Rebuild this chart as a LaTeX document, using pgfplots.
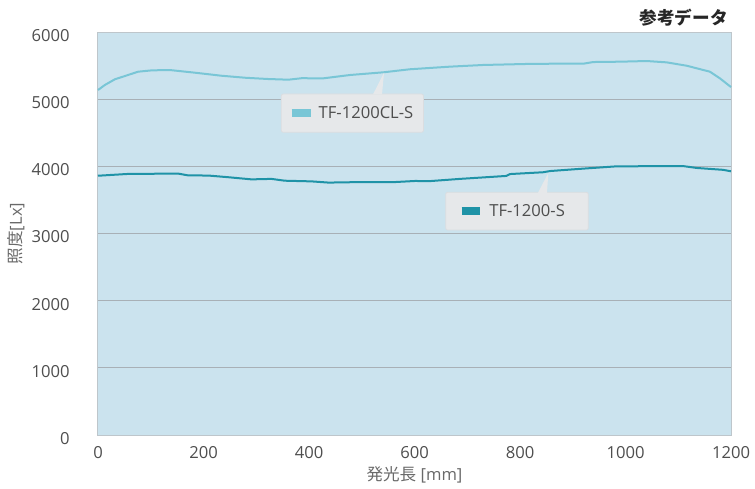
\documentclass[border=0pt]{standalone}
\usepackage{pgfplots}
\pgfplotsset{compat=1.18}
\usepackage{fontspec}
\setmainfont{Open Sans}
\newfontfamily\cjk{Noto Sans CJK JP}

\definecolor{plotbg}{RGB}{203,227,238}
\definecolor{gridc}{RGB}{168,176,182}
\definecolor{framec}{RGB}{190,198,203}
\definecolor{clcolor}{RGB}{121,198,214}
\definecolor{scolor}{RGB}{31,147,167}
\definecolor{calloutc}{RGB}{230,232,234}
\definecolor{calloutb}{RGB}{218,221,224}
\definecolor{txt}{RGB}{78,78,78}

% TF-1200CL-S
\pgfplotstableread{
x y
0 5136
13 5211
32 5296
57 5360
76 5409
102 5429
136 5434
184 5394
234 5349
279 5319
323 5300
361 5290
386 5312
427 5310
478 5360
541 5400
591 5445
667 5484
730 5509
812 5524
863 5528
920 5528
939 5553
990 5558
1040 5568
1078 5548
1116 5498
1160 5409
1179 5310
1200 5180
}\cldata

% TF-1200-S
\pgfplotstableread{
x y
0 3860
57 3887
152 3892
171 3865
209 3863
247 3838
291 3806
329 3813
354 3786
405 3776
437 3758
500 3766
563 3766
601 3782
629 3780
686 3813
774 3857
781 3885
844 3912
857 3930
920 3966
983 4000
1109 4004
1135 3976
1185 3948
1200 3926
}\sdata

\begin{document}
\begin{tikzpicture}
\path[use as bounding box] (-49pt,-26.5pt) rectangle (328.5pt,217.5pt);
\begin{axis}[
  at={(0,0)}, anchor=south west,
  scale only axis,
  width=316.5pt, height=201.5pt,
  xmin=0, xmax=1200, ymin=0, ymax=6000,
  xtick={0,200,...,1200}, ytick={0,1000,...,6000},
  ymajorgrids, grid style={gridc, line width=0.5pt},
  axis line style={framec, line width=0.5pt},
  major tick length=0pt,
  tick style={draw=none},
  axis background/.style={fill=plotbg},
  ticklabel style={font=\fontsize{8.3}{10}\selectfont, text=txt},
  /pgf/number format/assume math mode=true,
  /pgf/number format/1000 sep={},
  yticklabel style={xshift=-10.7pt, yshift=-1.75pt},
  xticklabel style={yshift=-2.2pt},
  xlabel={{\cjk 発光長} [mm]},
  ylabel={{\cjk 照度}[Lx]},
  label style={font=\fontsize{8.3}{10}\selectfont, text=txt!85},
  xlabel style={at={(axis description cs:0.5,-0.06)}, anchor=north},
  ylabel style={at={(axis description cs:-0.105,0.5)}, anchor=south},
  clip=false,
]
\addplot[clcolor, line width=1pt, no markers] table {\cldata};
\addplot[scolor, line width=1pt, no markers] table {\sdata};

% callout TF-1200CL-S
\filldraw[fill=calloutc, draw=calloutb, line width=0.4pt, rounded corners=1pt]
  (axis cs:347.3,4507) rectangle (axis cs:617.1,5077);
\fill[calloutc] (axis cs:521.3,5070) -- (axis cs:542.2,5394) -- (axis cs:538.4,5070) -- cycle;
\draw[clcolor, line width=3.8pt] (axis cs:367.2,4797) -- (axis cs:403.2,4797);
\node[anchor=west, inner sep=0, font=\fontsize{8.3}{10}\selectfont, text=txt]
  at (axis cs:417.6,4797) {TF-1200CL-S};

% callout TF-1200-S
\filldraw[fill=calloutc, draw=calloutb, line width=0.4pt, rounded corners=1pt]
  (axis cs:659.1,3052) rectangle (axis cs:929.5,3613);
\fill[calloutc] (axis cs:834.1,3606) -- (axis cs:853.6,3900) -- (axis cs:851.2,3606) -- cycle;
\draw[scolor, line width=3.8pt] (axis cs:689.4,3338) -- (axis cs:724.1,3338);
\node[anchor=west, inner sep=0, font=\fontsize{8.3}{10}\selectfont, text=txt]
  at (axis cs:741.2,3338) {TF-1200-S};

\node[anchor=south east, inner sep=0, xshift=-1.5pt, yshift=2.6pt,
  font=\fontsize{8.8}{10}\selectfont\cjk\bfseries, text=black!85]
  at (rel axis cs:1,1) {参考データ};
\end{axis}
\end{tikzpicture}
\end{document}
